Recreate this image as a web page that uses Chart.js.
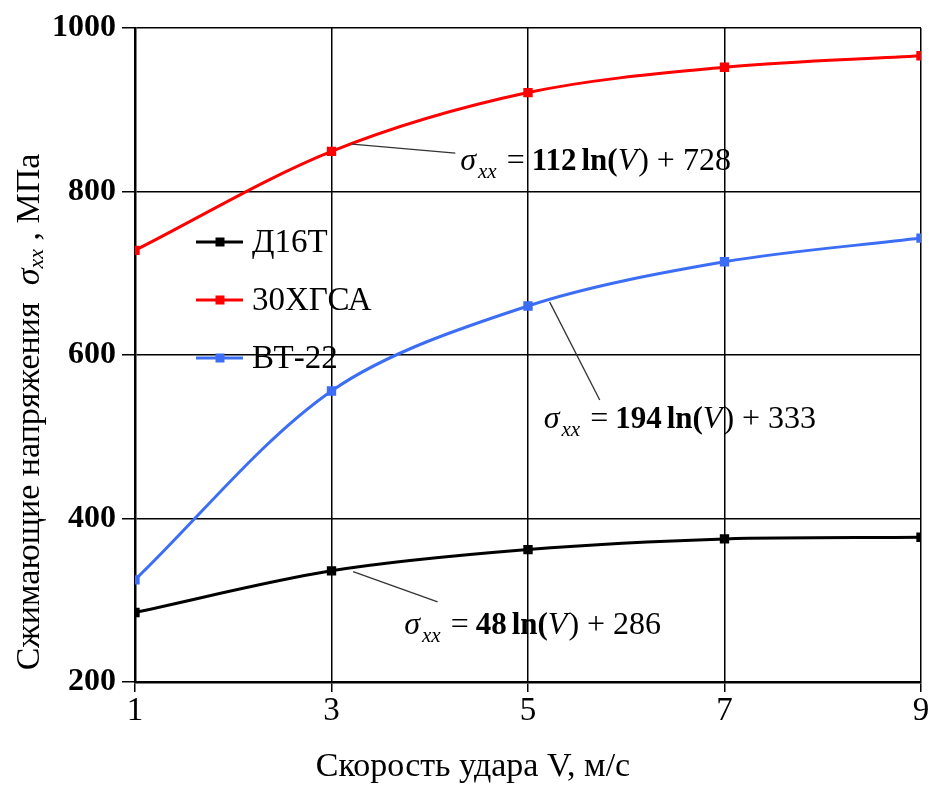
<!DOCTYPE html>
<html>
<head>
<meta charset="utf-8">
<script src="https://cdn.jsdelivr.net/npm/chart.js@4.4.1/dist/chart.umd.min.js"></script>
<style>
  html, body { margin: 0; padding: 0; background: #fff; }
  #wrap { width: 929px; height: 787px; position: relative; }
</style>
</head>
<body>
<div id="wrap"><canvas id="c"></canvas></div>
<script>
'use strict';

// ── DATA ──
const speeds = [1, 3, 5, 7, 9];
const d16t = [285, 336, 362, 375, 377];
const hgsa = [728, 849, 921, 952, 966];
const vt22 = [325, 556, 660, 714, 743];

const seriesNames = ['Д16Т', '30ХГСА', 'ВТ-22'];
const seriesColors = ['#000000', '#ff0000', '#3c6ef5'];

const xTicks = [1, 3, 5, 7, 9];
const yTicks = [200, 400, 600, 800, 1000];

// trend labels: coefficient, intercept, leader start/end and text anchor (data units)
const trendA = [112, 194, 48];
const trendB = [728, 333, 286];
const leaderFrom = [[3.21, 858], [5.22, 665], [3.22, 335]];
const leaderTo = [[4.26, 847], [5.73, 545], [4.08, 298]];
const labelAt = [[4.31, 826], [5.16, 511], [3.74, 259]];

const SERIF = '"Liberation Serif", "Times New Roman", serif';

const toPoints = vals => vals.map((v, i) => ({ x: speeds[i], y: v }));

const makeSet = (i, vals) => ({
  label: seriesNames[i],
  data: toPoints(vals),
  borderColor: seriesColors[i],
  backgroundColor: seriesColors[i],
  borderWidth: 3,
  pointStyle: 'rect',
  pointRadius: 4.5,
  pointHoverRadius: 4.5,
  tension: 0.32,
});

// ── EXTRA DRAWING: titles, legend, trend equations ──
const drawEquation = (ctx, x, y, a, b) => {
  const parts = [
    { t: 'σ', f: 'italic 32px ' + SERIF, dy: 0, gap: 2 },
    { t: 'xx', f: 'italic 21px ' + SERIF, dy: 8, gap: 10 },
    { t: '=', f: '32px ' + SERIF, dy: 0, gap: 7 },
    { t: String(a), f: 'bold 31px ' + SERIF, dy: 0, gap: 5 },
    { t: 'ln(', f: 'bold 31px ' + SERIF, dy: 0, gap: 0 },
    { t: 'V', f: 'italic 32px ' + SERIF, dy: 0, gap: 1 },
    { t: ')', f: '32px ' + SERIF, dy: 0, gap: 8 },
    { t: '+', f: '32px ' + SERIF, dy: 0, gap: 8 },
    { t: String(b), f: '32px ' + SERIF, dy: 0, gap: 0 },
  ];
  ctx.textAlign = 'left';
  ctx.textBaseline = 'alphabetic';
  let cx = x;
  parts.forEach(p => {
    ctx.font = p.f;
    ctx.fillText(p.t, cx, y + p.dy);
    cx += ctx.measureText(p.t).width + p.gap;
  });
};

const extras = {
  id: 'extras',
  afterDatasetsDraw(chart) {
    const { ctx, scales: { x, y }, chartArea } = chart;
    ctx.save();
    ctx.fillStyle = '#000';

    // leaders + equations
    ctx.strokeStyle = '#333';
    ctx.lineWidth = 1.3;
    for (let i = 0; i < trendA.length; i++) {
      ctx.beginPath();
      ctx.moveTo(x.getPixelForValue(leaderFrom[i][0]), y.getPixelForValue(leaderFrom[i][1]));
      ctx.lineTo(x.getPixelForValue(leaderTo[i][0]), y.getPixelForValue(leaderTo[i][1]));
      ctx.stroke();
      ctx.fillStyle = '#000';
      drawEquation(ctx, x.getPixelForValue(labelAt[i][0]), y.getPixelForValue(labelAt[i][1]), trendA[i], trendB[i]);
    }

    // legend inside plot
    const lx = chartArea.left + 61;
    chart.data.datasets.forEach((ds, i) => {
      const ly = chartArea.top + 214 + i * 58;
      ctx.strokeStyle = ds.borderColor;
      ctx.lineWidth = 3;
      ctx.beginPath();
      ctx.moveTo(lx, ly);
      ctx.lineTo(lx + 47, ly);
      ctx.stroke();
      ctx.fillStyle = ds.borderColor;
      ctx.fillRect(lx + 19.5, ly - 4.5, 9, 9);
      ctx.fillStyle = '#000';
      ctx.font = '33px ' + SERIF;
      ctx.textAlign = 'left';
      ctx.textBaseline = 'middle';
      ctx.fillText(ds.label, lx + 56, ly + 1);
    });

    // x title
    ctx.font = '34px ' + SERIF;
    ctx.textAlign = 'center';
    ctx.textBaseline = 'alphabetic';
    ctx.fillText('Скорость удара V, м/с', 473, 776);

    // y title, rotated, with σ_xx
    ctx.translate(30, 412);
    ctx.rotate(-Math.PI / 2);
    const yParts = [
      { t: 'Сжимающие напряжения  ', f: '34px ' + SERIF, dy: 0 },
      { t: 'σ', f: 'italic 34px ' + SERIF, dy: 0 },
      { t: 'xx', f: 'italic 22px ' + SERIF, dy: 7 },
      { t: ' , МПа', f: '34px ' + SERIF, dy: 0 },
    ];
    let total = 0;
    yParts.forEach(p => { ctx.font = p.f; total += ctx.measureText(p.t).width; });
    let cx = -total / 2;
    ctx.textAlign = 'left';
    ctx.textBaseline = 'middle';
    yParts.forEach(p => {
      ctx.font = p.f;
      ctx.fillText(p.t, cx, p.dy);
      cx += ctx.measureText(p.t).width;
    });
    ctx.restore();
  }
};

// ── CHART ──
new Chart(document.getElementById('c'), {
  type: 'line',
  data: {
    datasets: [makeSet(0, d16t), makeSet(1, hgsa), makeSet(2, vt22)],
  },
  options: {
    responsive: true,
    maintainAspectRatio: false,
    animation: false,
    layout: { padding: { top: 28, right: 8, left: 0, bottom: 0 } },
    plugins: { legend: { display: false }, tooltip: { enabled: false } },
    scales: {
      x: {
        type: 'linear',
        min: 1, max: 9,
        afterBuildTicks: s => { s.ticks = xTicks.map(v => ({ value: v })); },
        afterFit: s => { s.height = 105; s.paddingLeft = 0; s.paddingRight = 0; },
        ticks: { color: '#000', font: { family: SERIF, size: 33 }, padding: 0, callback: v => String(v) },
        grid: { color: '#000', lineWidth: 1.5, tickLength: 10 },
        border: { color: '#000', width: 2.5 },
      },
      y: {
        min: 200, max: 1000,
        afterBuildTicks: s => { s.ticks = yTicks.map(v => ({ value: v })); },
        afterFit: s => { s.width = 135; s.paddingTop = 0; s.paddingBottom = 0; },
        ticks: { color: '#000', font: { family: SERIF, size: 32, weight: 'bold' }, padding: 6, callback: v => String(v) },
        grid: { color: '#000', lineWidth: 1.5, tickLength: 13 },
        border: { color: '#000', width: 2.5 },
      },
    },
  },
  plugins: [extras],
});
</script>
</body>
</html>
